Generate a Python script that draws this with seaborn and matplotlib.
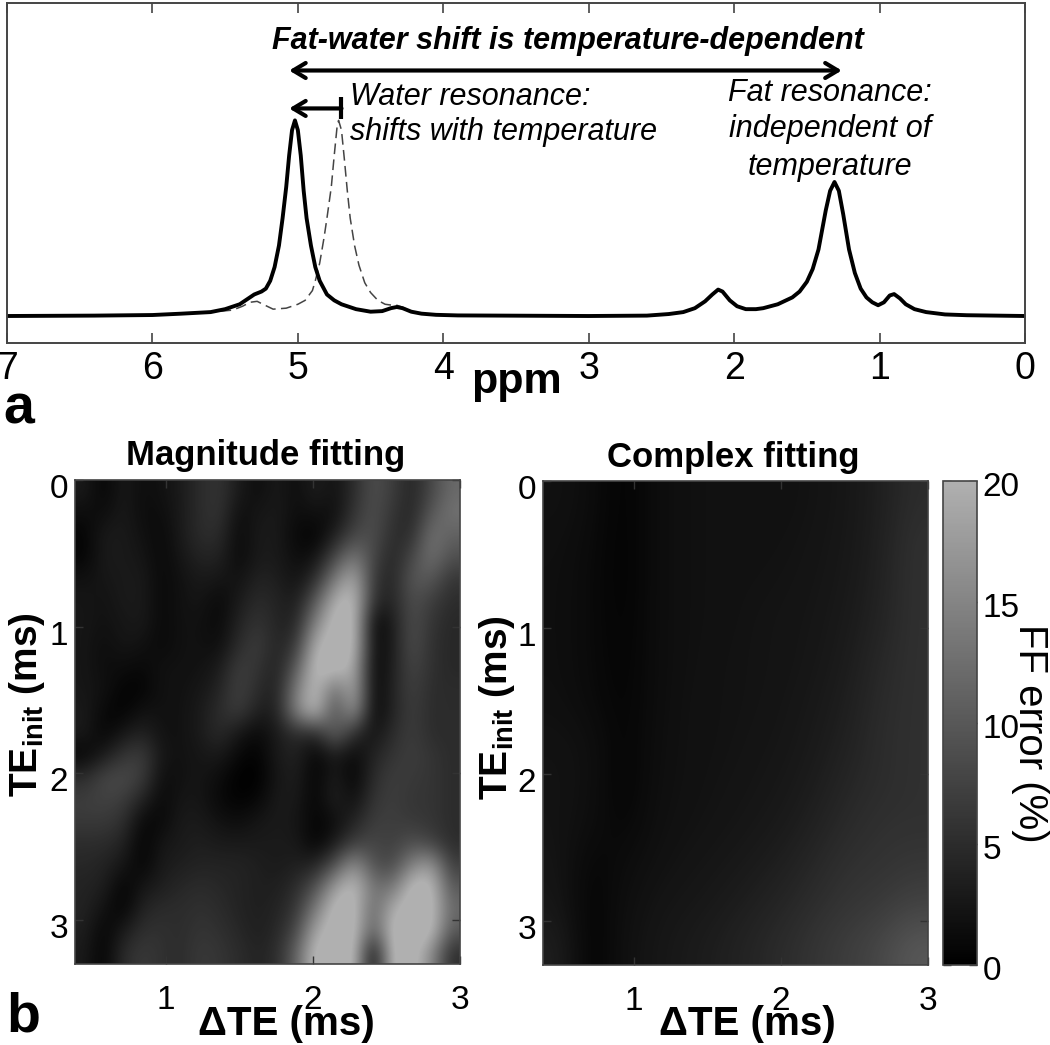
import numpy as np
import matplotlib
matplotlib.use("Agg")
import matplotlib.pyplot as plt
from matplotlib.colors import LinearSegmentedColormap, Normalize
from matplotlib.cm import ScalarMappable
from matplotlib.transforms import ScaledTranslation
import seaborn as sns

# ---------- data ----------
solid_ppm = [7.0, 6.4, 6.0, 5.8, 5.6, 5.5, 5.4, 5.34, 5.30, 5.25, 5.22, 5.19, 5.16, 5.13, 5.105, 5.08, 5.06, 5.04, 5.02,
             5.00, 4.98, 4.96, 4.94, 4.91, 4.88, 4.85, 4.80, 4.75, 4.70, 4.6, 4.5, 4.42, 4.36, 4.32, 4.28, 4.22, 4.15,
             4.05, 3.9, 3.0, 2.6, 2.45, 2.35, 2.27, 2.2, 2.15, 2.11, 2.08, 2.03, 1.98, 1.92, 1.85, 1.8, 1.7, 1.6, 1.55,
             1.5, 1.46, 1.42, 1.37, 1.34, 1.31, 1.28, 1.25, 1.21, 1.17, 1.13, 1.09, 1.05, 1.01, 0.97, 0.93, 0.90, 0.86,
             0.82, 0.76, 0.68, 0.55, 0.4, 0.0]
solid_val = [0.0, 0.002, 0.005, 0.012, 0.02, 0.035, 0.06, 0.09, 0.11, 0.125, 0.14, 0.18, 0.25, 0.36, 0.5, 0.66, 0.82, 0.95, 1.0,
             0.95, 0.82, 0.64, 0.5, 0.36, 0.25, 0.18, 0.11, 0.08, 0.06, 0.035, 0.022, 0.025, 0.04, 0.046, 0.04, 0.022, 0.012,
             0.006, 0.003, 0.0, 0.002, 0.01, 0.02, 0.04, 0.075, 0.11, 0.135, 0.125, 0.08, 0.05, 0.035, 0.035, 0.04, 0.06, 0.095, 0.125,
             0.175, 0.24, 0.34, 0.54, 0.64, 0.685, 0.64, 0.52, 0.34, 0.22, 0.14, 0.095, 0.07, 0.055, 0.07, 0.105, 0.112, 0.09,
             0.06, 0.035, 0.02, 0.008, 0.004, 0.0]
dash_ppm = [5.6, 5.45, 5.38, 5.33, 5.28, 5.24, 5.17, 5.08, 5.0, 4.95, 4.90, 4.88, 4.85, 4.82, 4.80, 4.77, 4.75, 4.73, 4.72,
            4.70, 4.68, 4.66, 4.64, 4.61, 4.58, 4.54, 4.5, 4.45, 4.4, 4.35, 4.32, 4.28, 4.22, 4.15]
dash_val = [0.02, 0.03, 0.05, 0.07, 0.075, 0.06, 0.035, 0.04, 0.06, 0.08, 0.13, 0.18, 0.27, 0.4, 0.5, 0.66, 0.82, 0.97, 1.0,
            0.95, 0.8, 0.64, 0.5, 0.36, 0.26, 0.17, 0.12, 0.08, 0.06, 0.055, 0.055, 0.045, 0.022, 0.012]

ppm_ticks = [0, 1, 2, 3, 4, 5, 6, 7]
te_ticks = [1, 2, 3]
init_ticks = [0, 1, 2, 3]
cbar_ticks = [0, 5, 10, 15, 20]

magnitude_error = np.array([
    [3, 0.5, 3, 1.5, 2, 3, 5, 6, 3, 1.5, 3, 1.5, 3.5, 2, 5, 9, 7, 4, 8, 12],
    [1.5, 1.5, 3, 1.5, 1.5, 3, 5, 6, 1.5, 2.5, 3, 1.5, 2, 1.5, 6, 9, 6, 4, 10, 13],
    [0.5, 3, 3, 2, 1, 3, 5, 5, 1, 3, 3, 1, 0.3, 3.5, 8, 9, 5, 5, 13, 11],
    [0.5, 3, 3, 2.5, 1, 2.5, 4, 4, 1, 3, 3, 1.5, 2, 8, 14, 8, 4, 8, 13, 9],
    [2, 2.5, 3, 3, 1, 2, 3, 2.5, 2, 4, 3.5, 2, 5, 14, 20, 6, 4, 10, 10, 6],
    [2.5, 2, 3, 3, 1, 2, 2.5, 1, 3, 5, 4, 3, 10, 20, 22, 5, 4, 9, 7, 5],
    [2.5, 2, 2.5, 3, 1, 2, 2, 1, 4, 6, 4, 4, 15, 22, 22, 0.5, 3, 9, 6, 4.5],
    [2.5, 1.5, 2.5, 2, 1, 2, 2, 1.5, 5, 7, 4, 6, 20, 22, 22, 1, 3, 9, 5.5, 4.5],
    [2.5, 1.5, 1.5, 1, 2, 2, 2, 3, 7, 6, 3.5, 10, 22, 22, 20, 0.5, 3.5, 8, 5.5, 4.5],
    [2.5, 2, 0.5, 0.5, 2, 2, 2.5, 4, 7.5, 5, 3.5, 14, 22, 12, 20, 0.5, 4, 7.5, 5, 5],
    [3, 1, 0.3, 2, 2, 2, 3, 5, 7, 3.5, 3.5, 15, 22, 8, 18, 0.5, 4, 7, 5, 5],
    [3, 0.5, 2.5, 4, 2, 2, 3, 5, 2.5, 1, 3, 5, 4, 12, 5, 2, 5, 7, 5, 5],
    [0.5, 3, 6, 7, 2.5, 2, 2.5, 3, 1, 0.2, 3, 4, 0.5, 3, 1, 4, 6, 7, 6, 5],
    [5, 8, 8.5, 7, 1.5, 2, 2.5, 1.5, 0, 0, 2.5, 3.5, 0.3, 3.5, 0.3, 5, 7, 6.5, 6, 5],
    [7, 7.5, 7, 4, 1, 2.5, 2.5, 1, 0.3, 0.8, 3, 3, 0.5, 4, 1.5, 6, 7, 6, 6, 5],
    [6.5, 6.5, 5.5, 1, 1, 3, 3, 2, 1.5, 2.5, 3, 2.5, 0.5, 1.5, 4, 7, 7, 6.5, 6, 5],
    [5, 5, 4, 0.3, 2.5, 3, 3.5, 3, 3, 3, 3, 3, 0.3, 3, 7, 8, 7, 9, 7.5, 5],
    [4.5, 4, 2.5, 0.5, 3, 3.5, 4, 4, 4, 3.5, 3, 3.5, 4, 9, 17, 9, 8, 15, 18, 7],
    [4, 3.5, 0.3, 2.5, 3.5, 4.5, 5, 4.5, 4, 3.5, 3.5, 5, 9, 18, 22, 13, 13, 22, 22, 10],
    [4, 2, 0.3, 4, 5, 5, 5.5, 5, 4, 3.5, 4, 6, 14, 22, 22, 11, 20, 22, 22, 12],
    [3.5, 0.5, 3, 5.5, 5.5, 5, 6, 5.5, 4.5, 3.5, 4.5, 8, 19, 22, 22, 10, 22, 22, 22, 10],
    [3, 0.2, 5, 6.5, 5.5, 5, 6.5, 6, 5, 4, 5, 11, 22, 22, 22, 0, 22, 22, 16, 5],
])
complex_error = np.array([
    [2, 1.5, 0.3, 1.5, 1.9, 2, 2, 2, 2.2, 2.6, 3.5, 5],
    [1.8, 1.3, 0.3, 1.5, 1.9, 2, 2, 2.1, 2.3, 2.7, 3.6, 5.5],
    [1.7, 1.2, 0.3, 1.5, 1.9, 2, 2.1, 2.2, 2.4, 2.8, 3.8, 5.5],
    [1.7, 1.2, 0.4, 1.5, 1.9, 2, 2.2, 2.3, 2.5, 3, 4, 5.5],
    [1.7, 1.2, 0.5, 1.5, 1.9, 2.1, 2.2, 2.3, 2.6, 3.2, 4.5, 5.5],
    [1.8, 1.3, 0.6, 1.5, 2, 2.1, 2.2, 2.4, 2.8, 3.5, 4.8, 5.5],
    [2.1, 1.8, 0.6, 1.6, 2, 2.1, 2.3, 2.5, 3, 3.8, 5, 5.5],
    [2.2, 1.8, 0.5, 1.7, 2, 2.2, 2.4, 2.7, 3.3, 4.3, 5, 5.5],
    [2.2, 1.6, 0.8, 1.8, 2.1, 2.3, 2.6, 3, 3.8, 4.8, 5.5, 5.5],
    [2.4, 0.8, 1.4, 2, 2.3, 2.6, 3, 3.6, 4.5, 5.5, 5.7, 6.2],
    [2.6, 0.5, 1.7, 2.3, 2.6, 3, 3.6, 4.3, 5.2, 6, 6.5, 7.5],
    [3.5, 0.3, 1.9, 2.5, 3, 3.5, 4.2, 5, 6, 7, 8, 10],
])

# ---------- style ----------
sns.set_theme(style="ticks", context="notebook")
FONT = ["Liberation Sans", "DejaVu Sans"]
plt.rcParams["font.family"] = FONT
plt.rcParams["text.color"] = "black"
plt.rcParams["xtick.labelcolor"] = "black"
plt.rcParams["ytick.labelcolor"] = "black"
plt.rcParams["mathtext.fontset"] = "custom"
plt.rcParams["mathtext.rm"] = "Liberation Sans"
plt.rcParams["mathtext.bf"] = "Liberation Sans:bold"
plt.rcParams["mathtext.default"] = "regular"

W, H = 1050, 1045
fig = plt.figure(figsize=(W / 100, H / 100), dpi=100, facecolor="white")


def box(x0, y0, x1, y1):
    return [x0 / W, 1 - y1 / H, (x1 - x0) / W, (y1 - y0) / H]


def px_text(x, y, s, **kw):
    kw.setdefault("ha", "center")
    kw.setdefault("va", "center")
    fig.text(x / W, 1 - y / H, s, **kw)


def shift_labels(labels, dx, dy):
    off = ScaledTranslation(dx / 100, -dy / 100, fig.dpi_scale_trans)
    for lab in labels:
        lab.set_transform(lab.get_transform() + off)


SPINE = "#444444"
cmap = LinearSegmentedColormap.from_list("ffgray", ["#000000", "#b0b0b0"])
norm = Normalize(0, 20)

# ---------- panel a ----------
ax = fig.add_axes(box(7, 3, 1025, 343))
sns.lineplot(x=dash_ppm, y=dash_val, ax=ax, color="#444444", lw=1.1, estimator=None,
             linestyle=(0, (7, 3.5)))
sns.lineplot(x=solid_ppm, y=solid_val, ax=ax, color="black", lw=2.8, estimator=None)
ax.set_xlim(7, 0)
ax.set_ylim(-0.138, 1.6)
ax.set_yticks([])
ax.set_xticks(ppm_ticks)
ax.tick_params(axis="x", direction="in", top=True, bottom=True, length=7, width=1.2,
               color=SPINE, labelsize=27, pad=6)
for s in ax.spines.values():
    s.set_visible(True)
    s.set_color(SPINE)
    s.set_linewidth(1.4)
ax.set_xlabel("")
ax.set_ylabel("")

ax.annotate("", xy=(5.06, 1.255), xytext=(1.26, 1.255),
            arrowprops=dict(arrowstyle="<->,head_length=0.75,head_width=0.45", color="black", lw=3,
                            shrinkA=0, shrinkB=0))
ax.annotate("", xy=(5.06, 1.061), xytext=(4.70, 1.061),
            arrowprops=dict(arrowstyle="->,head_length=0.75,head_width=0.45", color="black", lw=3,
                            shrinkA=0, shrinkB=0))
ax.plot([4.70, 4.70], [1.005, 1.117], color="black", lw=3, solid_capstyle="butt")

px_text(568, 41, "Fat-water shift is temperature-dependent", fontsize=22, fontweight="bold", fontstyle="italic")
px_text(350, 97, "Water resonance:", fontsize=22, fontstyle="italic", ha="left")
px_text(350, 132, "shifts with temperature", fontsize=22, fontstyle="italic", ha="left")
px_text(830, 93, "Fat resonance:", fontsize=22, fontstyle="italic")
px_text(830, 129, "independent of", fontsize=22, fontstyle="italic")
px_text(830, 167, "temperature", fontsize=22, fontstyle="italic")
px_text(516, 382, "ppm", fontsize=31, fontweight="bold")
px_text(19, 410, "a", fontsize=40, fontweight="bold")
px_text(23, 1017, "b", fontsize=40, fontweight="bold")

# ---------- panel b ----------
EXTENT = [0.38, 3.0, 3.3, 0.0]


def heat(position, values):
    a = fig.add_axes(box(*position))
    a.imshow(values, cmap=cmap, norm=norm, extent=EXTENT, aspect="auto", interpolation="bicubic")
    a.set_xticks(te_ticks)
    a.set_yticks(init_ticks)
    a.tick_params(direction="in", top=True, right=True, length=6, width=1.0, color="#333333",
                  labelsize=24)
    a.tick_params(axis="x", pad=15)
    a.tick_params(axis="y", pad=5)
    for s in a.spines.values():
        s.set_visible(True)
        s.set_color(SPINE)
        s.set_linewidth(1.2)
    shift_labels(a.get_yticklabels(), 0, 6)
    return a


ax_m = heat((75, 480, 460, 964), magnitude_error)
ax_c = heat((543, 481, 928, 965), complex_error)

px_text(266, 456, "Magnitude fitting", fontsize=25, fontweight="bold")
px_text(733, 458, "Complex fitting", fontsize=25, fontweight="bold")
px_text(286, 1024, "\u0394TE (ms)", fontsize=29, fontweight="bold")
px_text(747, 1024, "\u0394TE (ms)", fontsize=29, fontweight="bold")
ylab = r"TE$_{\mathbf{init}}$ (ms)"
px_text(27, 705, ylab, fontsize=28, fontweight="bold", rotation=90)
px_text(497, 708, ylab, fontsize=28, fontweight="bold", rotation=90)

cax = fig.add_axes(box(943, 481, 977, 965))
cb = fig.colorbar(ScalarMappable(norm=norm, cmap=cmap), cax=cax, ticks=cbar_ticks)
cb.ax.tick_params(direction="in", left=True, right=True, length=6, width=1.0, color="#333333",
                  labelsize=24, pad=4)
cb.outline.set_edgecolor(SPINE)
cb.outline.set_linewidth(1.2)
shift_labels(cb.ax.get_yticklabels(), 0, 3)
px_text(1030, 733, "FF error (%)", fontsize=29, rotation=270)

fig.savefig("out.png", dpi=100, facecolor="white")
